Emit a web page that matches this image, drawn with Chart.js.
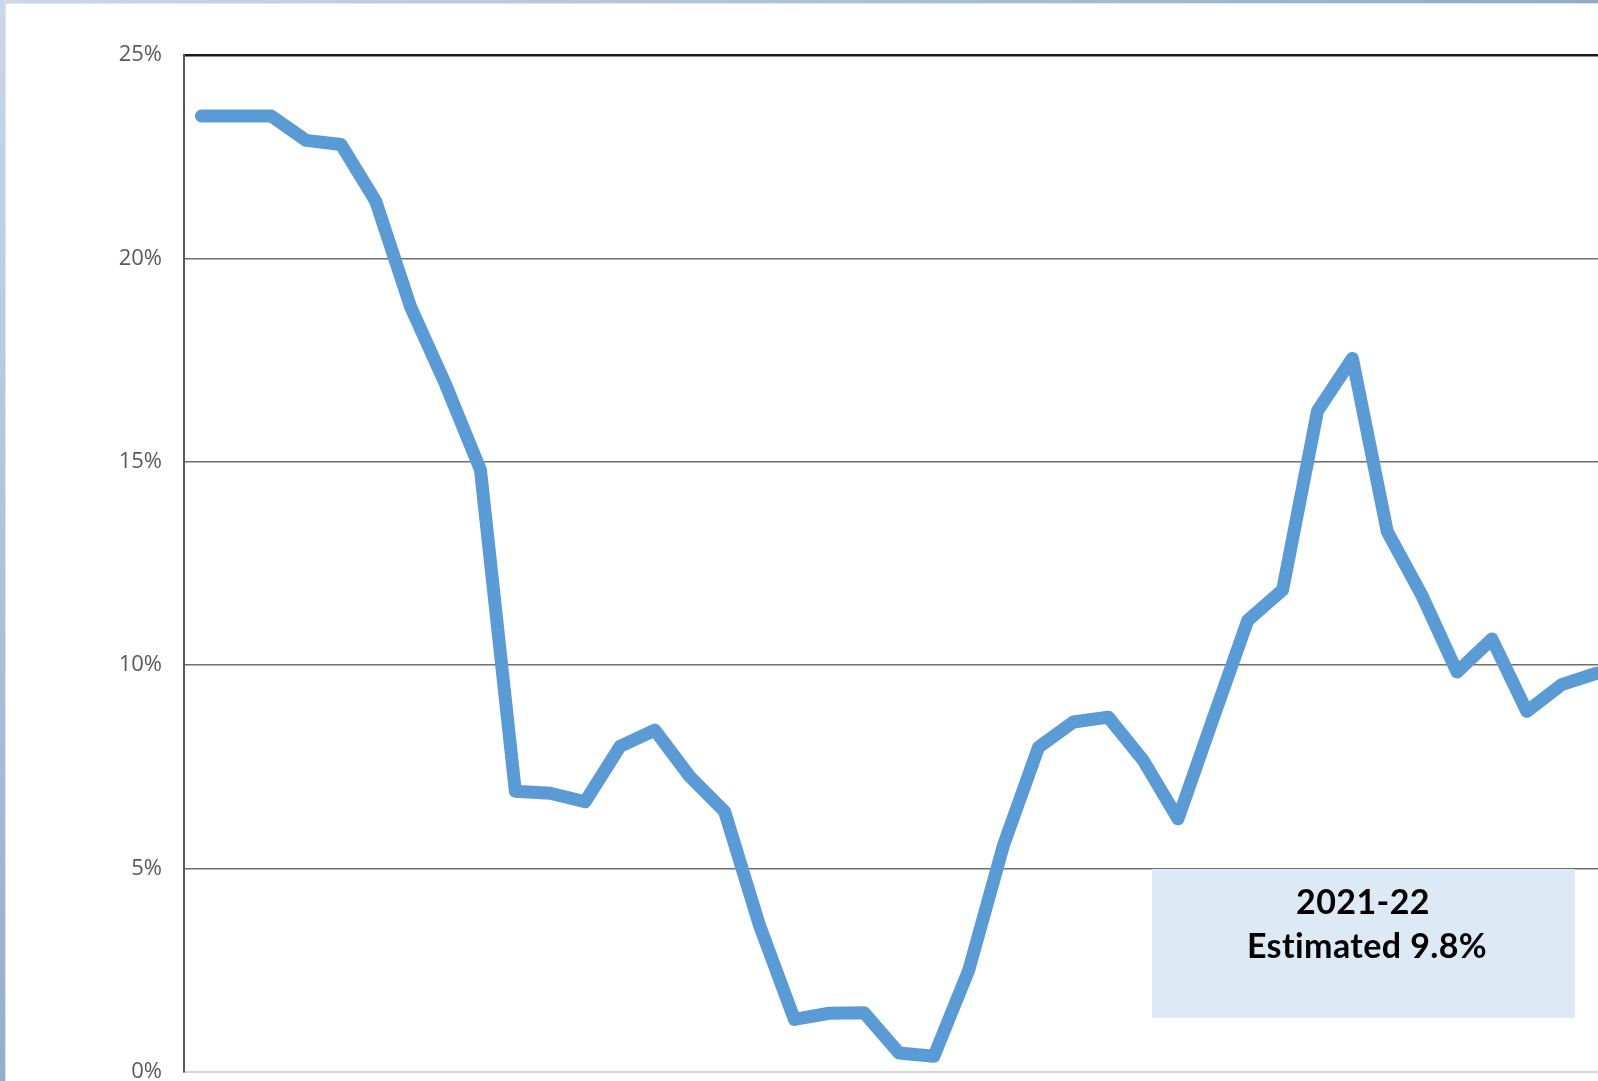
<!DOCTYPE html>
<html>
<head>
<meta charset="utf-8">
<script src="https://cdn.jsdelivr.net/npm/chart.js@4.4.1/dist/chart.umd.min.js"></script>
<style>
  html, body { margin: 0; padding: 0; background: #fff; overflow: hidden; }
  #wrap { position: absolute; left: 0; top: 0; width: 1614px; height: 1107px; }
  #frameLeft { position: absolute; left: 0; top: 0; width: 5px; height: 1081px;
    background: linear-gradient(#c9d8ea, #98acce); border-right: 1px solid #e4e4e4; }
  #frameTop { position: absolute; left: 0; top: 0; width: 1598px; height: 3px;
    background: linear-gradient(90deg, #c9d8ea, #93a9cb); border-bottom: 1px solid #e6e6e6; }
</style>
</head>
<body>
<div id="wrap"><canvas id="lineChart"></canvas></div>
<div id="frameTop"></div>
<div id="frameLeft"></div>
<script>
// năm học
const years = ['1981-82', '1982-83', '1983-84', '1984-85', '1985-86', '1986-87', '1987-88',
  '1988-89', '1989-90', '1990-91', '1991-92', '1992-93', '1993-94', '1994-95', '1995-96',
  '1996-97', '1997-98', '1998-99', '1999-00', '2000-01', '2001-02', '2002-03', '2003-04',
  '2004-05', '2005-06', '2006-07', '2007-08', '2008-09', '2009-10', '2010-11', '2011-12',
  '2012-13', '2013-14', '2014-15', '2015-16', '2016-17', '2017-18', '2018-19', '2019-20',
  '2020-21', '2021-22'];

// tỷ lệ (%)
const rates = [23.5, 23.5, 23.5, 22.9, 22.8, 21.4, 18.8, 16.9, 14.8, 6.9,
  6.85, 6.64, 8.0, 8.4, 7.26, 6.4, 3.6, 1.29, 1.44, 1.45,
  0.46, 0.38, 2.5, 5.58, 7.98, 8.6, 8.72, 7.66, 6.22, 8.67,
  11.1, 11.85, 16.25, 17.54, 13.28, 11.7, 9.83, 10.64, 8.86, 9.52,
  9.8];

const yTicks = [0, 5, 10, 15, 20, 25];

const noteLines = ['2021-22', 'Estimated 9.8%'];

// hộp ghi chú
const notePlugin = {
  id: 'note',
  afterDraw(chart) {
    const ctx = chart.ctx;
    ctx.save();
    ctx.fillStyle = '#dde9f5';
    ctx.fillRect(1152, 869, 423, 149);
    ctx.fillStyle = '#000';
    ctx.font = 'bold 34px Lato';
    ctx.letterSpacing = '0.4px';
    ctx.textAlign = 'center';
    ctx.textBaseline = 'middle';
    ctx.fillText(noteLines[0], 1363, 903);
    ctx.fillText(noteLines[1], 1367, 947);
    ctx.restore();
  }
};

const ctxLine = document.getElementById('lineChart').getContext('2d');
const lineChart = new Chart(ctxLine, {
  type: 'line',
  data: {
    labels: years,
    datasets: [{
      label: 'Rate',
      data: rates,
      fill: false,
      borderColor: '#5b9bd5',
      borderWidth: 13,
      borderCapStyle: 'round',
      borderJoinStyle: 'round',
      pointRadius: 0,
      tension: 0
    }]
  },
  options: {
    responsive: true,
    maintainAspectRatio: false,
    animation: false,
    layout: { padding: { left: 0, right: 0, top: 55, bottom: 18 } },
    plugins: {
      legend: { display: false },
      tooltip: { enabled: false }
    },
    scales: {
      x: {
        offset: true,
        grid: { display: false, drawTicks: false },
        border: { display: true, color: '#d4d4d4', width: 2 },
        ticks: { display: false },
        afterFit(scale) { scale.height = 0; }
      },
      y: {
        min: 0,
        max: 25,
        afterBuildTicks(scale) { scale.ticks = yTicks.map(v => ({ value: v })); },
        grid: {
          drawTicks: false,
          color: c => c.tick.value === 25 ? '#1a1a1a' : (c.tick.value === 0 ? '#d4d4d4' : '#6f6f6f'),
          lineWidth: c => c.tick.value === 25 ? 2.5 : 1.5
        },
        border: { display: true, color: '#595959', width: 2 },
        ticks: {
          padding: 22,
          color: '#595959',
          font: { family: 'Open Sans', size: 22 },
          callback: v => v + '%'
        },
        afterFit(scale) { scale.width = 184; }
      }
    }
  },
  plugins: [notePlugin]
});
</script>
</body>
</html>
